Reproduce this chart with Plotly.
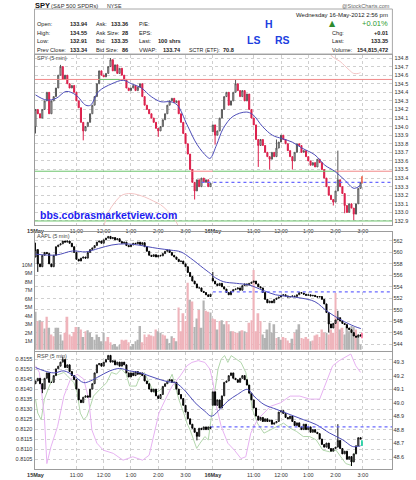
import plotly.graph_objects as go

W, H = 416, 480
FONT = "Liberation Sans, Arial, sans-serif"

# ---------------- axis labels / sessions ----------------
x_tick_bars = [0, 18, 30, 42, 54, 66, 78, 96, 108, 120, 132, 144]
x_tick_text = ["<b>15May</b>", "11:00", "12:00", "1:00", "2:00", "3:00",
               "<b>16May</b>", "11:00", "12:00", "1:00", "2:00", "3:00"]
session_start = [0, 78]
vol_tick_vals = [1, 2, 3, 4, 5, 6, 7, 8, 9, 10]
vol_tick_text = ["1M", "2M", "3M", "4M", "5M", "6M", "7M", "8M", "9M", "10M"]

# ---------------- SPY 5-min (closes per bar) ----------------
spy_close_d1 = [134.20, 134.15, 134.10, 134.20, 134.30, 134.40, 134.15, 134.30, 134.35, 134.45,
                134.60, 134.70, 134.55, 134.60, 134.50, 134.45, 134.48, 134.40, 134.30, 134.22,
                134.05, 133.95, 134.00, 134.05, 134.15, 134.25, 134.35, 134.50, 134.65, 134.60,
                134.58, 134.62, 134.70, 134.78, 134.65, 134.72, 134.62, 134.68, 134.60, 134.55,
                134.45, 134.42, 134.45, 134.48, 134.42, 134.46, 134.50, 134.35, 134.25, 134.20,
                134.15, 134.10, 134.05, 133.98, 133.95, 134.00, 134.08, 134.15, 134.25, 134.30,
                134.33, 134.28, 134.30, 134.15, 134.05, 133.92, 133.80, 133.68, 133.50, 133.35,
                133.25, 133.38, 133.30, 133.40, 133.35, 133.38, 133.30, 133.34]
spy_close_d2 = [134.02, 133.90, 133.95, 134.10, 134.20, 134.35, 134.40, 134.25, 134.30, 134.40,
                134.50, 134.42, 134.35, 134.42, 134.30, 134.38, 134.20, 134.10, 134.02, 133.85,
                133.78, 133.85, 133.78, 133.70, 133.65, 133.62, 133.70, 133.65, 133.75, 133.82,
                133.90, 133.85, 133.80, 133.72, 133.65, 133.60, 133.70, 133.80, 133.78, 133.70,
                133.72, 133.65, 133.60, 133.55, 133.58, 133.53, 133.62, 133.58, 133.50, 133.40,
                133.30, 133.20, 133.15, 133.12, 133.25, 133.38, 133.30, 133.22, 133.08, 133.00,
                133.10, 133.05, 132.98, 133.10, 133.28, 133.35]
spy_session_opens = [134.00, 133.94]
spy_high_wicks = {11: 134.72, 33: 134.80, 88: 134.55, 106: 133.85, 133: 133.72}
spy_low_wicks = {0: 133.92, 21: 133.84, 54: 133.88, 70: 133.15, 79: 133.79, 98: 133.53,
                 103: 133.50, 113: 133.50, 131: 133.08, 136: 132.99, 140: 132.91}
spy_ma_bars = [0, 4.8, 9.1, 13.4, 17.7, 22.1, 24.2, 27.8, 33.6, 38.6, 42.2, 46.6, 50.9, 55.2,
               59.5, 62.4, 66.7, 71.1, 75.4, 76.8, 79.7, 82.6, 86.9, 92.7, 95.6, 99.9, 104.2,
               108.5, 112.9, 117.2, 122.9, 127.3, 131.6, 135.9, 140.2, 143.1]
spy_ma_vals = [134.37, 134.31, 134.33, 134.41, 134.37, 134.25, 134.25, 134.41, 134.50, 134.54,
               134.50, 134.45, 134.35, 134.29, 134.29, 134.25, 134.02, 133.79, 133.65, 133.63,
               133.79, 133.98, 134.12, 134.17, 134.14, 134.00, 133.90, 133.86, 133.82, 133.75,
               133.67, 133.55, 133.48, 133.38, 133.28, 133.32]
spy_overlay_bars = [30, 32, 35, 38, 42, 48, 52, 55, 58, 61, 63, None,
                    128, 130, 132, 134, 136, 138, 140, 142, 143]
spy_overlay_vals = [132.83, 133.00, 133.12, 133.20, 133.22, 133.18, 133.13, 133.09, 133.02, 132.93, 132.83, None,
                    134.90, 134.83, 134.79, 134.76, 134.71, 134.66, 134.62, 134.62, 134.63]
spy_red_levels = [(-0.5, 157, 134.55), (68, 78, 133.48), (132, 157, 133.48)]
spy_green_levels = [(-0.5, 68, 133.48), (78, 132, 133.48), (-0.5, 157, 132.90), (28, 37, 134.55)]
spy_prev_close_line = (73, 157, 133.35)

# ---------------- AAPL 5-min ----------------
aapl_close_d1 = [560.5, 558.0, 557.5, 559.5, 560.0, 559.8, 558.0, 557.5, 559.5, 561.0,
                 561.3, 561.5, 562.0, 561.8, 562.0, 561.6, 561.0, 560.0, 558.8, 558.5,
                 559.0, 559.2, 559.0, 560.0, 560.5, 560.8, 561.2, 561.8, 562.0, 561.6,
                 562.2, 562.5, 562.8, 562.4, 562.6, 562.2, 562.4, 561.9, 561.6, 561.8,
                 561.2, 561.0, 561.3, 561.6, 561.5, 561.8, 561.4, 561.7, 561.0, 560.2,
                 559.5, 559.3, 559.6, 559.2, 559.5, 559.4, 559.8, 560.2, 560.4, 560.0,
                 559.5, 559.2, 558.8, 558.4, 558.5, 558.0, 557.5, 556.5, 555.8, 555.0,
                 554.5, 553.8, 553.8, 553.2, 553.0, 552.6, 552.3, 552.7]
aapl_close_d2 = [555.0, 554.5, 554.2, 554.6, 554.0, 553.6, 553.0, 552.6, 553.2, 553.5,
                 553.6, 553.8, 553.4, 554.2, 554.5, 554.3, 554.6, 554.8, 555.0, 554.5,
                 554.0, 553.8, 553.0, 551.8, 551.2, 551.5, 551.2, 551.8, 552.0, 552.2,
                 552.5, 552.6, 552.4, 552.2, 552.3, 552.4, 552.3, 552.6, 553.0, 552.9,
                 552.7, 552.5, 552.6, 552.4, 552.5, 552.3, 552.2, 552.3, 551.8, 551.0,
                 549.5, 547.5, 546.8, 547.6, 548.2, 548.6, 548.0, 547.6, 547.4, 546.8,
                 546.5, 546.0, 545.4, 545.2, 545.6, 545.4]
aapl_session_opens = [559.2, 555.5]
aapl_high_wicks = {0: 561.7, 78: 556.6, 133: 549.8}
aapl_low_wicks = {1: 556.6, 129: 546.0}
aapl_ma_bars = [0, 9.1, 16.3, 22.1, 27.8, 33.6, 39.4, 45.1, 49.4, 53.8, 59.5, 63.9, 68.2, 74.0,
                77.6, 78.3, 82.6, 88.4, 94.1, 99.9, 105.6, 111.4, 117.2, 122.9, 128.7, 134.5,
                140.2, 143.1]
aapl_ma_vals = [559.7, 559.55, 560.25, 560.1, 560.7, 561.3, 561.5, 561.3, 561.0, 560.7, 560.4,
                560.1, 559.0, 557.2, 556.1, 555.8, 554.9, 554.6, 554.3, 553.4, 552.6, 552.3,
                552.0, 551.4, 549.6, 548.2, 547.1, 546.7]
aapl_prev_close_line = (78, 157, 553.1)
aapl_vol_d1 = [4.5, 3.4, 3.5, 3.3, 2.5, 3.9, 2.6, 1.8, 1.6, 2.6,
               2.6, 1.8, 1.1, 2.0, 3.9, 1.8, 1.6, 2.1, 2.7, 2.7,
               2.4, 1.5, 2.2, 2.3, 2.0, 1.5, 1.2, 1.8, 1.5, 1.0,
               2.0, 1.0, 1.5, 0.9, 0.6, 0.7, 0.4, 0.6, 1.2, 1.1,
               1.2, 0.9, 0.4, 0.7, 1.0, 1.2, 2.8, 0.9, 1.8, 1.5,
               1.8, 1.7, 1.6, 2.4, 2.2, 2.0, 1.8, 1.7, 1.3, 0.8,
               1.6, 1.4, 1.0, 5.0, 2.2, 4.3, 3.4, 7.9, 5.9, 5.7,
               2.7, 3.7, 4.7, 2.6, 5.8, 4.6, 4.5, 4.4]
aapl_vol_d2 = [3.7, 3.6, 2.4, 3.4, 3.5, 3.0, 3.4, 3.0, 2.2, 2.2,
               2.0, 2.0, 2.2, 2.3, 2.2, 2.0, 3.2, 3.5, 9.4, 2.2,
               4.3, 3.4, 1.8, 1.4, 2.4, 3.2, 2.0, 3.0, 1.4, 1.5,
               1.2, 1.5, 1.4, 1.1, 0.8, 1.3, 2.0, 2.4, 3.0, 1.4,
               1.3, 1.5, 1.3, 1.0, 1.1, 1.7, 1.8, 1.5, 2.4, 2.0,
               2.0, 1.8, 2.4, 2.0, 6.7, 3.4, 2.4, 2.6, 1.8, 2.8,
               2.2, 2.8, 2.7, 2.4, 1.6, 0.6]
# u = up bar (gray), d = down bar (pink), one letter per 5-min bar
aapl_vol_dir_d1 = ["ududududdu", "uuuddddddu", "duduuuuuuu", "uddduuuudd", "dduuuuuddd",
                   "dddduudduu", "ududddddud", "uuduuddu"]
aapl_vol_dir_d2 = ["dduduuddud", "ddududdddd", "dduuuuuudu", "udddduduud", "dddudddddd",
                   "uddddduduu", "uuuduu"]

# ---------------- RSP 5-min ----------------
rsp_close_d1 = [49.16, 49.18, 49.14, 49.10, 49.18, 49.22, 49.15, 49.15, 49.20, 49.25,
                49.27, 49.30, 49.32, 49.26, 49.28, 49.23, 49.20, 49.17, 49.10, 49.02,
                49.00, 49.04, 49.05, 49.04, 49.10, 49.14, 49.22, 49.28, 49.29, 49.27,
                49.30, 49.32, 49.35, 49.30, 49.31, 49.28, 49.30, 49.27, 49.30, 49.28,
                49.22, 49.19, 49.22, 49.20, 49.23, 49.21, 49.22, 49.20, 49.16, 49.14,
                49.10, 49.08, 49.10, 49.05, 49.03, 49.06, 49.12, 49.14, 49.16, 49.17,
                49.15, 49.15, 49.10, 49.06, 49.03, 48.98, 48.93, 48.88, 48.84, 48.81,
                48.78, 48.75, 48.81, 48.80, 48.82, 48.80, 48.82, 48.81]
rsp_close_d2 = [49.08, 48.98, 49.02, 48.96, 49.05, 49.15, 49.16, 49.20, 49.22, 49.18,
                49.17, 49.15, 49.18, 49.20, 49.17, 49.13, 49.07, 49.02, 48.96, 48.90,
                48.87, 48.89, 48.86, 48.88, 48.86, 48.87, 48.84, 48.85, 48.86, 48.93,
                48.94, 48.92, 48.89, 48.88, 48.90, 48.86, 48.83, 48.85, 48.82, 48.80,
                48.84, 48.80, 48.82, 48.78, 48.80, 48.78, 48.77, 48.73, 48.69, 48.67,
                48.70, 48.66, 48.64, 48.66, 48.67, 48.72, 48.66, 48.62, 48.64, 48.58,
                48.60, 48.56, 48.62, 48.68, 48.74, 48.73]
rsp_session_opens = [49.14, 48.98]
rsp_high_wicks = {12: 49.34, 133: 48.84}
rsp_low_wicks = {3: 49.07, 71: 48.72, 139: 48.53}
rsp_ma_bars = [0, 3.9, 8.2, 12.5, 16.9, 21.2, 24.1, 28.4, 32.7, 37.0, 41.4, 45.7, 50.0, 54.3,
               58.7, 61.5, 65.9, 70.2, 74.5, 77.4, 80.3, 84.6, 88.9, 93.2, 96.1, 100.5, 106.2,
               112.0, 117.8, 123.5, 129.3, 135.1, 139.4, 141.5, 143.0]
rsp_ma_vals = [49.26, 49.235, 49.22, 49.235, 49.198, 49.148, 49.16, 49.198, 49.235, 49.253,
               49.235, 49.223, 49.198, 49.173, 49.153, 49.148, 49.086, 48.999, 48.936, 48.899,
               48.936, 49.011, 49.061, 49.098, 49.048, 48.986, 48.949, 48.911, 48.874, 48.837,
               48.775, 48.725, 48.675, 48.675, 48.68]
rsp_prev_close_line = (77, 157, 48.82)
rsp_green_bars = [0, 1.0, 2.5, 3.9, 6.1, 8.2, 10.4, 12.5, 14.0, 15.4, 16.9, 18.3, 19.7, 21.2,
                  22.6, 24.1, 25.5, 28.4, 31.3, 33.4, 35.6, 37.8, 39.9, 41.4, 44.3, 45.7, 47.9,
                  50.0, 52.2, 54.3, 56.5, 58.7, 60.1, 61.5, 63.0, 65.2, 66.6, 68.0, 69.5, 70.9,
                  72.4, 74.5, 76.0, 77.4, 78.8, 80.3, 81.7, 83.2, 84.6, 86.1, 88.2, 90.4, 92.5,
                  94.0, 95.4, 97.6, 100.5, 103.4, 106.2, 109.1, 112.0, 114.9, 117.8, 120.6,
                  123.5, 126.4, 129.3, 132.2, 134.3, 136.5, 138.7, 140.1, 141.5, 142.7]
rsp_green_vals = [0.8135, 0.8128, 0.81247, 0.8135, 0.81415, 0.81466, 0.81474, 0.81483, 0.81466,
                  0.8145, 0.81432, 0.81382, 0.8128, 0.81247, 0.81264, 0.81314, 0.81365, 0.8140,
                  0.81432, 0.81483, 0.81474, 0.8150, 0.81474, 0.81415, 0.81415, 0.81457, 0.81483,
                  0.81432, 0.81382, 0.8139, 0.81415, 0.81441, 0.81474, 0.81415, 0.8135, 0.8128,
                  0.8123, 0.81196, 0.81146, 0.81104, 0.8113, 0.81163, 0.81146, 0.8128, 0.81382,
                  0.8150, 0.8155, 0.81567, 0.81533, 0.81567, 0.8155, 0.81533, 0.81483, 0.8140,
                  0.8130, 0.8123, 0.8118, 0.81196, 0.81213, 0.8123, 0.81205, 0.81188, 0.81163,
                  0.81163, 0.81146, 0.81095, 0.81087, 0.81095, 0.81062, 0.81028, 0.8102, 0.81062,
                  0.81121, 0.81112]
rsp_violet_bars = [0, 1.7, 3.9, 5.0, 6.8, 9.7, 12.5, 15.4, 18.3, 21.2, 23.4, 24.8, 27.0, 29.8,
                   34.2, 38.5, 42.8, 47.1, 50.0, 52.2, 54.3, 57.2, 60.1, 63.7, 66.6, 68.8, 71.6,
                   74.5, 76.7, 78.1, 79.6, 81.7, 84.6, 87.5, 90.4, 92.5, 94.7, 97.6, 100.5, 103.4,
                   107.7, 112.0, 116.3, 120.6, 125.0, 127.9, 130.7, 133.6, 136.5, 138.7, 140.9, 143.0]
rsp_violet_vals = [0.81516, 0.81483, 0.81264, 0.81028, 0.81112, 0.81213, 0.81365, 0.8145, 0.81474,
                   0.8145, 0.8135, 0.81196, 0.8113, 0.81095, 0.81079, 0.81045, 0.81062, 0.81045,
                   0.8107, 0.8118, 0.8128, 0.8135, 0.81415, 0.81466, 0.81516, 0.81533, 0.81542,
                   0.81533, 0.8150, 0.81432, 0.81314, 0.81213, 0.8113, 0.81095, 0.81053, 0.81062,
                   0.8118, 0.81247, 0.81281, 0.81314, 0.81331, 0.81365, 0.81365, 0.8135, 0.8135,
                   0.81432, 0.81516, 0.81542, 0.81559, 0.81575, 0.81516, 0.81483]
last_prices = [133.38, 545.5, 48.70]

# ---------------- quote header ----------------
title_sym, title_name, title_exch = "SPY", "(S&P 500 SPDRs)", "NYSE"
quote_time = "Wednesday 16-May-2012 2:56 pm"
col1 = [("Open:", "133.94"), ("High:", "134.55"), ("Low:", "132.91"), ("Prev Close:", "133.34")]
col2 = [("Ask:", "133.36"), ("Ask Size:", "28"), ("Bid:", "133.35"), ("Bid Size:", "86")]
col3 = [("P/E:", ""), ("EPS:", ""), ("Last:", "100 shrs"), ("VWAP:", "133.74")]
sctr = ("SCTR (ETF):", "70.8")
col4 = [("", "+0.01%"), ("Chg:", "+0.01"), ("Last:", "133.35"), ("Volume:", "154,815,472")]
pattern_marks = [("H", 266.5, 24), ("LS", 250.5, 40), ("RS", 280.5, 40)]
watermark = "bbs.cobrasmarketview.com"

# ---------------- helpers ----------------
def build_ohlc(d1, d2, session_opens, hi_w, lo_w):
    closes = d1 + d2
    opens, highs, lows = [], [], []
    for i, c in enumerate(closes):
        o = session_opens[session_start.index(i)] if i in session_start else closes[i - 1]
        opens.append(o)
        highs.append(hi_w.get(i, max(o, c)))
        lows.append(lo_w.get(i, min(o, c)))
    return opens, highs, lows, closes

X0, X1 = -0.43, 157.0
XD = [28 / W, 392 / W]
D_TOP = [1 - 225 / H, 1 - 55 / H]
D_MID = [1 - 351 / H, 1 - 232 / H]
D_BOT = [1 - 469 / H, 1 - 352 / H]

fig = go.Figure()

def seg(x0, x1, y, color, xa, ya, dash=None, width=1):
    fig.add_trace(go.Scatter(x=[x0, x1], y=[y, y], mode="lines", xaxis=xa, yaxis=ya,
                             line=dict(color=color, width=width, dash=dash),
                             hoverinfo="skip", showlegend=False))

# ---- SPY panel
for (a, b, v) in spy_red_levels:
    seg(a, b, v, "#f28a8a", "x", "y")
for (a, b, v) in spy_green_levels:
    seg(a, b, v, "#6cc46c", "x", "y")
fig.add_trace(go.Scatter(x=spy_overlay_bars, y=spy_overlay_vals, mode="lines", xaxis="x", yaxis="y",
                         line=dict(color="#f3c4c4", width=1, shape="spline"), connectgaps=False,
                         hoverinfo="skip", showlegend=False))
o, h, l, c = build_ohlc(spy_close_d1, spy_close_d2, spy_session_opens, spy_high_wicks, spy_low_wicks)
bars = list(range(len(c)))
fig.add_trace(go.Candlestick(x=bars, open=o, high=h, low=l, close=c, xaxis="x", yaxis="y",
                             increasing=dict(line=dict(color="#555555", width=1), fillcolor="#ffffff"),
                             decreasing=dict(line=dict(color="#dc1f4b", width=1), fillcolor="#dc1f4b"),
                             whiskerwidth=0, hoverinfo="skip", showlegend=False))
fig.add_trace(go.Scatter(x=spy_ma_bars, y=spy_ma_vals, mode="lines", xaxis="x", yaxis="y",
                         line=dict(color="#4d4db8", width=1, shape="spline"), hoverinfo="skip", showlegend=False))
seg(*spy_prev_close_line, "#6a6aff", "x", "y", dash="dot", width=1.2)
fig.add_trace(go.Scatter(x=[bars[-1] + 0.6], y=[last_prices[0]], mode="markers", xaxis="x", yaxis="y",
                         marker=dict(symbol="line-ns-open", size=5, line=dict(color="#33bb33", width=1.5)),
                         hoverinfo="skip", showlegend=False))

# ---- AAPL panel (volume on y2, price on y3)
vols = aapl_vol_d1 + aapl_vol_d2
vol_dir = "".join(aapl_vol_dir_d1) + "".join(aapl_vol_dir_d2)
vcol = ["#b3b3b3" if d == "u" else "#efb4bb" for d in vol_dir]
fig.add_trace(go.Bar(x=list(range(len(vols))), y=vols, marker=dict(color=vcol, line=dict(width=0)),
                     xaxis="x2", yaxis="y2", hoverinfo="skip", showlegend=False))
o, h, l, c = build_ohlc(aapl_close_d1, aapl_close_d2, aapl_session_opens, aapl_high_wicks, aapl_low_wicks)
fig.add_trace(go.Candlestick(x=bars, open=o, high=h, low=l, close=c, xaxis="x2", yaxis="y3",
                             increasing=dict(line=dict(color="#111111", width=1), fillcolor="#ffffff"),
                             decreasing=dict(line=dict(color="#000000", width=1), fillcolor="#000000"),
                             whiskerwidth=0, hoverinfo="skip", showlegend=False))
fig.add_trace(go.Scatter(x=aapl_ma_bars, y=aapl_ma_vals, mode="lines", xaxis="x2", yaxis="y3",
                         line=dict(color="#4d4db8", width=1, shape="spline"), hoverinfo="skip", showlegend=False))
seg(*aapl_prev_close_line, "#6a6aff", "x2", "y3", dash="dot", width=1.2)
fig.add_trace(go.Scatter(x=[bars[-1] + 0.6], y=[last_prices[1]], mode="markers", xaxis="x2", yaxis="y3",
                         marker=dict(symbol="line-ns-open", size=4, line=dict(color="#33bb33", width=1.5)),
                         hoverinfo="skip", showlegend=False))

# ---- RSP panel (ratios on y4, price on y5)
fig.add_trace(go.Scatter(x=rsp_green_bars, y=rsp_green_vals, mode="lines", xaxis="x3", yaxis="y4",
                         line=dict(color="#b2d6ac", width=1), hoverinfo="skip", showlegend=False))
fig.add_trace(go.Scatter(x=rsp_violet_bars, y=rsp_violet_vals, mode="lines", xaxis="x3", yaxis="y4",
                         line=dict(color="#e7b2f2", width=1), hoverinfo="skip", showlegend=False))
o, h, l, c = build_ohlc(rsp_close_d1, rsp_close_d2, rsp_session_opens, rsp_high_wicks, rsp_low_wicks)
fig.add_trace(go.Candlestick(x=bars, open=o, high=h, low=l, close=c, xaxis="x3", yaxis="y5",
                             increasing=dict(line=dict(color="#111111", width=1), fillcolor="#ffffff"),
                             decreasing=dict(line=dict(color="#000000", width=1), fillcolor="#000000"),
                             whiskerwidth=0, hoverinfo="skip", showlegend=False))
fig.add_trace(go.Scatter(x=rsp_ma_bars, y=rsp_ma_vals, mode="lines", xaxis="x3", yaxis="y5",
                         line=dict(color="#4d4db8", width=1, shape="spline"), hoverinfo="skip", showlegend=False))
seg(*rsp_prev_close_line, "#6a6aff", "x3", "y5", dash="dot", width=1.2)
fig.add_trace(go.Scatter(x=[bars[-1] + 0.6], y=[last_prices[2]], mode="markers", xaxis="x3", yaxis="y5",
                         marker=dict(symbol="line-ns-open", size=4, line=dict(color="#33bb33", width=1.5)),
                         hoverinfo="skip", showlegend=False))

# ---------------- axes ----------------
grid = dict(showgrid=True, gridcolor="#cfcfcf", griddash="dot", gridwidth=1)
border = dict(showline=True, linecolor="#9c9c9c", linewidth=1, mirror=True)
tickf = dict(size=5.5, color="#333333", family=FONT)
xcommon = dict(domain=XD, range=[X0, X1], tickmode="array", tickvals=x_tick_bars, ticktext=x_tick_text,
               ticks="", tickfont=tickf, zeroline=False, rangeslider=dict(visible=False), **grid, **border)

fig.update_layout(
    width=W, height=H, margin=dict(l=0, r=0, t=0, b=0), autosize=False,
    paper_bgcolor="white", plot_bgcolor="white", showlegend=False,
    bargap=0.18, boxgap=0.35, font=dict(family=FONT),
    xaxis=dict(anchor="y", **xcommon),
    xaxis2=dict(anchor="y2", matches="x", showticklabels=False, **xcommon),
    xaxis3=dict(anchor="y4", matches="x", **xcommon),
    yaxis=dict(domain=D_TOP, anchor="x", side="right", range=[132.853, 134.835], tickmode="linear",
               tick0=132.9, dtick=0.1, tickformat=".1f", ticks="", tickfont=tickf, zeroline=False,
               **grid, **border),
    yaxis2=dict(domain=D_MID, anchor="x2", side="left", range=[-0.14, 13.89], tickmode="array",
                tickvals=vol_tick_vals, ticktext=vol_tick_text, ticks="", tickfont=tickf,
                showgrid=False, zeroline=False, **border),
    yaxis3=dict(overlaying="y2", anchor="x2", side="right", range=[542.78, 563.57], tickmode="linear",
                tick0=544, dtick=2, ticks="", tickfont=tickf, zeroline=False, showline=False, **grid),
    yaxis4=dict(domain=D_BOT, anchor="x3", side="left", range=[0.81001, 0.81585], tickmode="linear",
                tick0=0.8100, dtick=0.0005, tickformat=".4f", ticks="", tickfont=tickf, zeroline=False,
                **grid, **border),
    yaxis5=dict(overlaying="y4", anchor="x3", side="right", range=[48.508, 49.375], tickmode="linear",
                tick0=48.6, dtick=0.1, tickformat=".1f", ticks="", tickfont=tickf, zeroline=False,
                showgrid=False, showline=False),
)

# ---------------- texts ----------------
def txt(s, x, y, size=5.6, color="#222222", bold=False, anchor="left", family=FONT):
    if bold:
        s = "<b>" + s + "</b>"
    fig.add_annotation(text=s, x=x / W, y=1 - y / H, xref="paper", yref="paper", xanchor=anchor,
                       yanchor="middle", showarrow=False, borderpad=0,
                       font=dict(size=size, color=color, family=family))

fig.add_shape(type="rect", xref="paper", yref="paper", x0=28 / W, x1=392 / W, y0=1 - 54 / H, y1=1 - 9 / H,
              line=dict(color="#a8a8a8", width=1), fillcolor="rgba(0,0,0,0)")
txt(title_sym, 27, 5.5, size=7.5, bold=True, color="#111")
txt(title_name, 44, 5.5, size=5.8, color="#333")
txt(title_exch, 101, 5.5, size=5.3, color="#333")
txt("@StockCharts.com", 391, 5.5, size=5.5, color="#666", anchor="right")
txt(quote_time, 389, 15, size=6, color="#222", anchor="right")

rows_y = [24, 32.5, 41, 49.5]
for k, y in enumerate(rows_y):
    lab, val = col1[k]
    txt(lab, 30, y)
    txt(val, 63, y, bold=True)
    lab, val = col2[k]
    txt(lab, 90, y)
    txt(val, 124, y, bold=True, anchor="right")
    lab, val = col3[k]
    txt(lab, 133, y)
    if val:
        txt(val, 178, y, bold=True, anchor="right")
    lab, val = col4[k]
    if lab:
        txt(lab, 330, y)
        txt(val, 389, y, bold=True, anchor="right")
txt(sctr[0], 184, rows_y[3], size=5.3)
txt(sctr[1], 219, rows_y[3], bold=True)
txt("\u25B2", 327, 23, size=8, color="#2e8b2e", family="DejaVu Sans")
txt(col4[0][1], 389, 23, size=7.5, color="#2e9b2e", anchor="right")
for s, x, y in pattern_marks:
    txt(s, x, y, size=10.5, bold=True, color="#2040e0", anchor="center")

txt("SPY (5 min)", 30, 58.5, size=5.5, color="#444")
txt("AAPL (5 min)", 30, 236, size=5.5, color="#444")
txt("RSP (5 min)", 30, 355.5, size=5.5, color="#444")
txt(watermark, 33, 215, size=10.5, bold=True, color="#1c1cf0")

fig.write_html("out.html")
